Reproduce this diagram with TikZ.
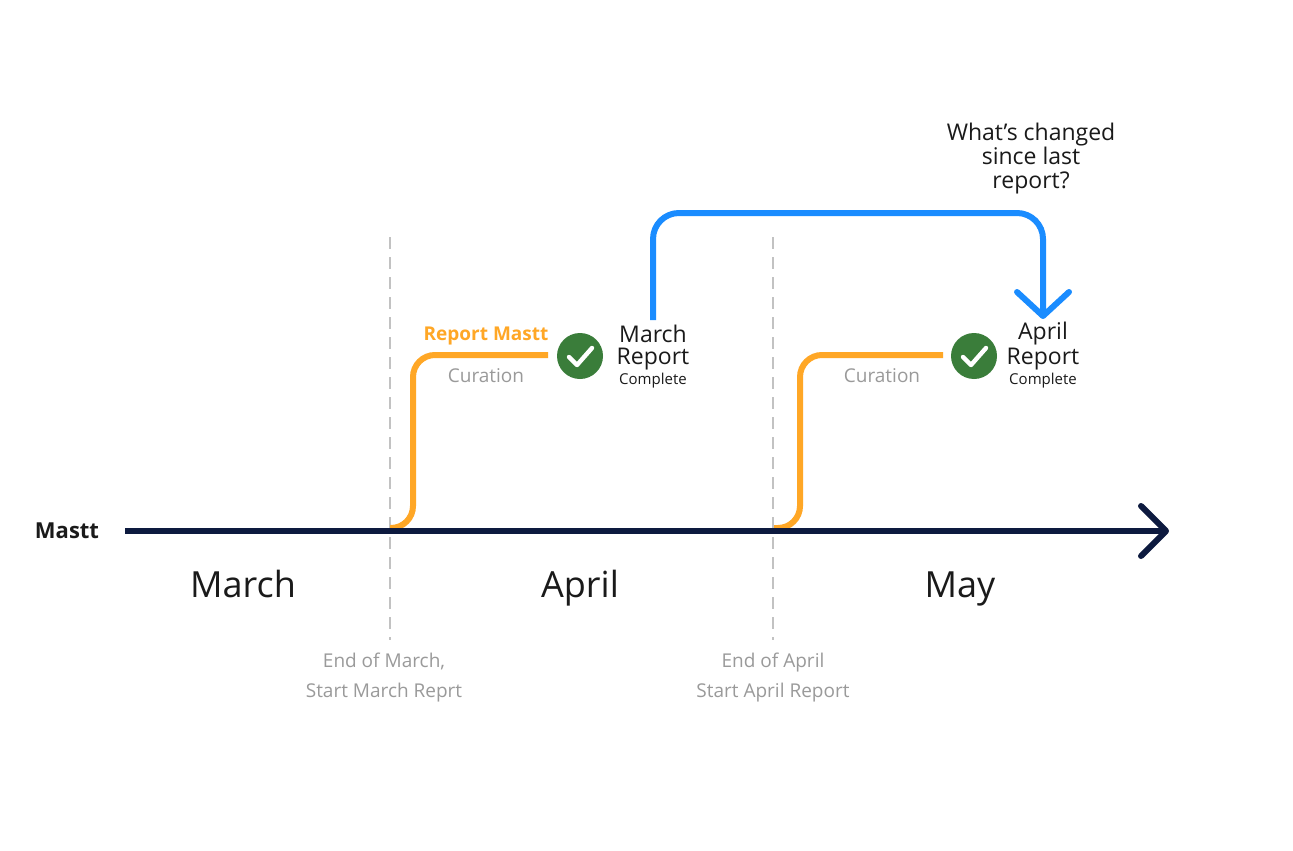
\documentclass[tikz,border=0pt]{standalone}
\usepackage{fontspec}
\setmainfont{Open Sans}
\definecolor{navy}{HTML}{0D1A3F}
\definecolor{org}{HTML}{FFA726}
\definecolor{blu}{HTML}{1A8CFF}
\definecolor{grn}{HTML}{3A7D3A}
\definecolor{gry}{HTML}{9A9A9A}
\definecolor{ink}{HTML}{1A1A1A}
\begin{document}
\begin{tikzpicture}[x=0.5pt,y=-0.5pt,
  month/.style={font=\fontsize{18}{20}\selectfont,text=ink,anchor=base},
  glabel/.style={font=\fontsize{9.5}{15}\selectfont,text=gry,align=center},
  rep/.style={font=\fontsize{11.5}{12}\selectfont,text=ink,align=center},
  comp/.style={font=\fontsize{7.5}{8}\selectfont,text=ink},
  chk/.style={circle,fill=grn,minimum size=23pt,inner sep=0pt},
  oline/.style={org,line width=3pt,rounded corners=11pt},
  vdash/.style={gry!60,line width=1.2pt,dash pattern=on 6pt off 4pt}]
\useasboundingbox[fill=white] (0,0) rectangle (1293,850);
\draw[vdash] (390,237) -- (390,640);
\draw[vdash] (773,237) -- (773,640);
\coordinate (o1s) at (390,528); \coordinate (o1e) at (548,355);
\draw[oline] (o1s) -- (413,528) -- (413,355) -- (o1e);
\coordinate (o2s) at (774,528); \coordinate (o2e) at (943,355);
\draw[oline] (o2s) -- (800,528) -- (800,355) -- (o2e);
\coordinate (a0) at (125,531); \coordinate (a1) at (1166,531);
\draw[navy,line width=3pt] (a0) -- (a1);
\draw[navy,line width=3pt,line cap=round,line join=round] (1141,506) -- (a1) -- (1141,556);
\node[font=\fontsize{11}{12}\selectfont\bfseries,text=ink] (mastt) at (67,531) {Mastt};
\node[month] (mar) at (243,597) {March};
\node[month] (apr) at (580,597) {April};
\node[month] (may) at (960,597) {May};
\node[glabel] (l1) at (384,678) {End of March,\\Start March Reprt};
\node[glabel] (l2) at (773,678) {End of April\\Start April Report};
\node[font=\fontsize{9.5}{10}\selectfont\bfseries,text=org] (rm) at (486,336) {Report Mastt};
\node[glabel] (c1) at (486,376) {Curation};
\node[glabel] (c2) at (882,376) {Curation};
\node[chk] (k1) at (580,356) {};
\draw[white,line width=2.2pt,line cap=round,line join=round] (569,357) -- (577,365) -- (592,348);
\node[chk] (k2) at (974,356) {};
\draw[white,line width=2.2pt,line cap=round,line join=round] (963,357) -- (971,365) -- (986,348);
\node[rep] (mr1) at (653,334) {March};
\node[rep] (mr2) at (653,359) {Report};
\node[comp] (mc) at (653,381) {Complete};
\node[rep] (ar1) at (1043,334) {April};
\node[rep] (ar2) at (1043,359) {Report};
\node[comp] (ac) at (1043,381) {Complete};
\coordinate (b0) at (653,320); \coordinate (b1) at (1043,316);
\draw[blu,line width=3pt,rounded corners=13pt] (b0) -- (653,213) -- (1043,213) -- (b1);
\draw[blu,line width=3pt,line cap=round,line join=round] (1017,292) -- (b1) -- (1069,292);
\node[rep] (q) at (1031,159) {What’s changed\\since last\\report?};
\end{tikzpicture}
\end{document}
